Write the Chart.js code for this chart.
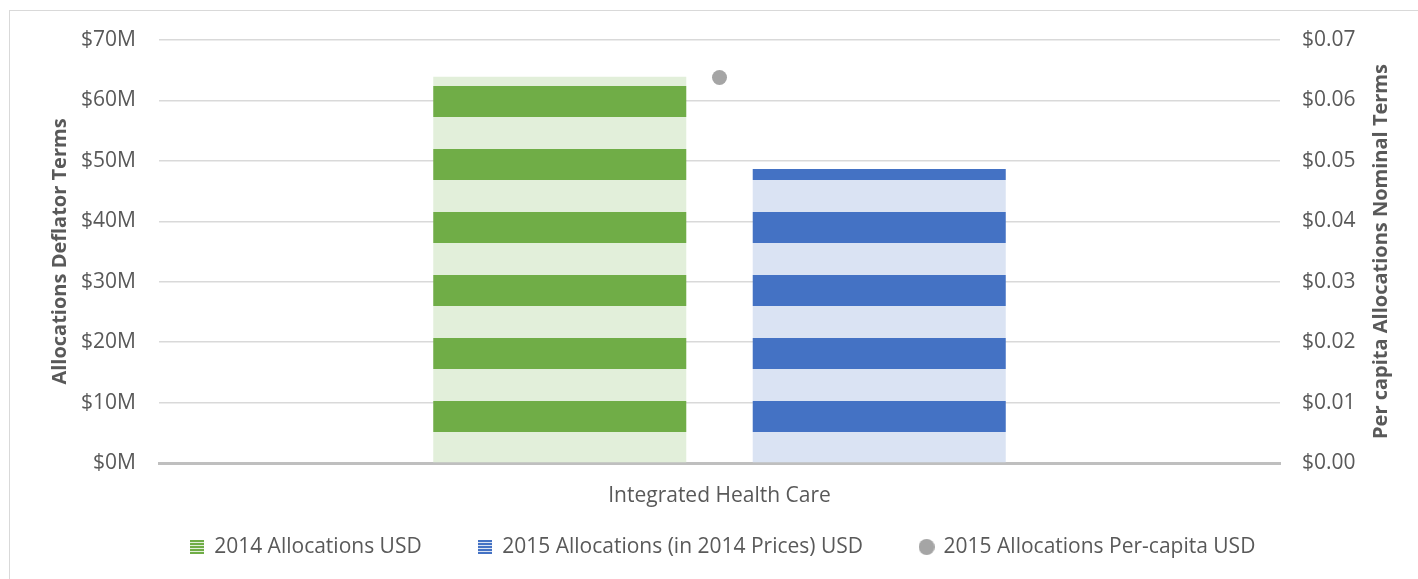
<!DOCTYPE html>
<html>
<head>
<meta charset="utf-8">
<script src="https://cdn.jsdelivr.net/npm/chart.js@4.4.1/dist/chart.umd.min.js"></script>
<style>
  html, body { margin: 0; padding: 0; background: #fff; overflow: hidden; }
  #wrap { position: relative; width: 1418px; height: 579px; }
  #frame { position: absolute; left: 9px; top: 10px; width: 1500px; height: 700px; border: 1px solid #d9d9d9; box-sizing: border-box; pointer-events: none; }
  canvas { position: absolute; left: 0; top: 0; }
</style>
</head>
<body>
<div id="wrap">
  <div id="frame"></div>
  <canvas id="c" width="1418" height="579"></canvas>
</div>
<script>
const categories = ["Integrated Health Care"];
const alloc2014 = [63900000];
const alloc2015In2014Prices = [48650000];
const perCapita2015 = [0.0638];
const seriesNames = ["2014 Allocations USD", "2015 Allocations (in 2014 Prices) USD", "2015 Allocations Per-capita USD"];
const leftTicks = [0, 10, 20, 30, 40, 50, 60, 70];
const rightTicks = [0.00, 0.01, 0.02, 0.03, 0.04, 0.05, 0.06, 0.07];
const leftTitle = 'Allocations Deflator Terms';
const rightTitle = 'Per capita Allocations Nominal Terms';

const FONT = "'Open Sans', sans-serif";
const TXT = '#595959';
const FS = 21;

function stripePattern(dark, light) {
  const c = document.createElement('canvas');
  c.width = 8; c.height = 63;
  const g = c.getContext('2d');
  g.fillStyle = light; g.fillRect(0, 0, 8, 63);
  g.fillStyle = dark; g.fillRect(0, 23, 8, 31);
  return g.createPattern(c, 'repeat');
}
function legendStripes(dark, light) {
  const c = document.createElement('canvas');
  c.width = 14; c.height = 14;
  const g = c.getContext('2d');
  g.fillStyle = light; g.fillRect(0, 0, 14, 14);
  g.fillStyle = dark;
  for (let y = 0; y < 14; y += 3) g.fillRect(0, y, 14, 2);
  return c;
}
function legendDot(color) {
  const c = document.createElement('canvas');
  c.width = 16; c.height = 16;
  const g = c.getContext('2d');
  g.fillStyle = color;
  g.beginPath(); g.arc(8, 8, 8, 0, Math.PI * 2); g.fill();
  return c;
}
const legendIcons = [legendStripes('#70ad47', '#e2efda'), legendStripes('#4472c4', '#dae3f3'), legendDot('#a5a5a5')];

const ctx = document.getElementById('c').getContext('2d');
const greenFill = stripePattern('#70ad47', '#e2efda');
const blueFill = stripePattern('#4472c4', '#dae3f3');

const layoutTweaks = {
  id: 'layoutTweaks',
  afterLayout(chart) {
    const lg = chart.legend;
    if (lg) {
      lg.left += 14; lg.right += 14;
      const dy = 28.5;
      lg.top -= dy; lg.bottom -= dy;
    }
  },
  afterDraw(chart) {
    const a = chart.chartArea;
    const c = chart.ctx;
    c.save();
    c.translate(1381, (a.top + a.bottom) / 2);
    c.rotate(-Math.PI / 2);
    c.font = "bold 20px " + FONT;
    c.fillStyle = TXT;
    c.textAlign = 'center';
    c.textBaseline = 'middle';
    c.fillText(rightTitle, 0, 0);
    c.restore();
  }
};

new Chart(ctx, {
  data: {
    labels: categories,
    datasets: [
      { type: 'bar', label: seriesNames[0], data: alloc2014, backgroundColor: greenFill, borderWidth: 0,
        yAxisID: 'y', categoryPercentage: 0.570, barPercentage: 0.792 },
      { type: 'bar', label: seriesNames[1], data: alloc2015In2014Prices, backgroundColor: blueFill, borderWidth: 0,
        yAxisID: 'y', categoryPercentage: 0.570, barPercentage: 0.792 },
      { type: 'line', label: seriesNames[2], data: perCapita2015, showLine: false, yAxisID: 'y1',
        pointStyle: 'circle', pointRadius: 7.5, pointHoverRadius: 7.5, backgroundColor: '#a5a5a5', borderColor: '#a5a5a5', borderWidth: 0 }
    ]
  },
  plugins: [layoutTweaks],
  options: {
    responsive: false,
    animation: false,
    events: [],
    layout: { padding: { top: 40, left: 0, right: 0, bottom: -17 } },
    plugins: {
      tooltip: { enabled: false },
      legend: {
        position: 'bottom',
        labels: {
          usePointStyle: true,
          pointStyleWidth: 13,
          color: TXT,
          font: { family: FONT, size: FS },
          padding: 57,
          boxHeight: 14,
          sort: (a, b) => a.datasetIndex - b.datasetIndex,
          generateLabels: chart => {
            const items = Chart.defaults.plugins.legend.labels.generateLabels(chart);
            items.forEach(it => { it.pointStyle = legendIcons[it.datasetIndex]; });
            return items;
          }
        }
      }
    },
    scales: {
      x: {
        grid: { display: false },
        border: { display: true, color: '#bfbfbf', width: 3 },
        ticks: { color: TXT, font: { family: FONT, size: FS }, padding: 12 },
        afterFit: s => { s.height = 45; }
      },
      y: {
        position: 'left',
        min: 0, max: 70000000,
        afterBuildTicks: s => { s.ticks = leftTicks.map(v => ({ value: v * 1e6 })); },
        ticks: { color: TXT, font: { family: FONT, size: FS }, padding: 23,
          callback: v => '$' + Math.round(v / 1e6) + 'M' },
        grid: { color: '#d9d9d9', lineWidth: 1.5, drawTicks: false },
        border: { display: false },
        title: { display: true, text: leftTitle, color: TXT,
          font: { family: FONT, size: 20, weight: 'bold' }, padding: { top: 48, bottom: 0 } },
        afterFit: s => { s.width = 159; }
      },
      y1: {
        position: 'right',
        min: 0, max: 0.07,
        afterBuildTicks: s => { s.ticks = rightTicks.map(v => ({ value: v })); },
        ticks: { color: TXT, font: { family: FONT, size: FS }, padding: 22,
          callback: v => '$' + v.toFixed(2) },
        grid: { display: false, drawTicks: false },
        border: { display: false },
        title: { display: false },
        afterFit: s => { s.width = 138; }
      }
    }
  }
});
</script>
</body>
</html>
